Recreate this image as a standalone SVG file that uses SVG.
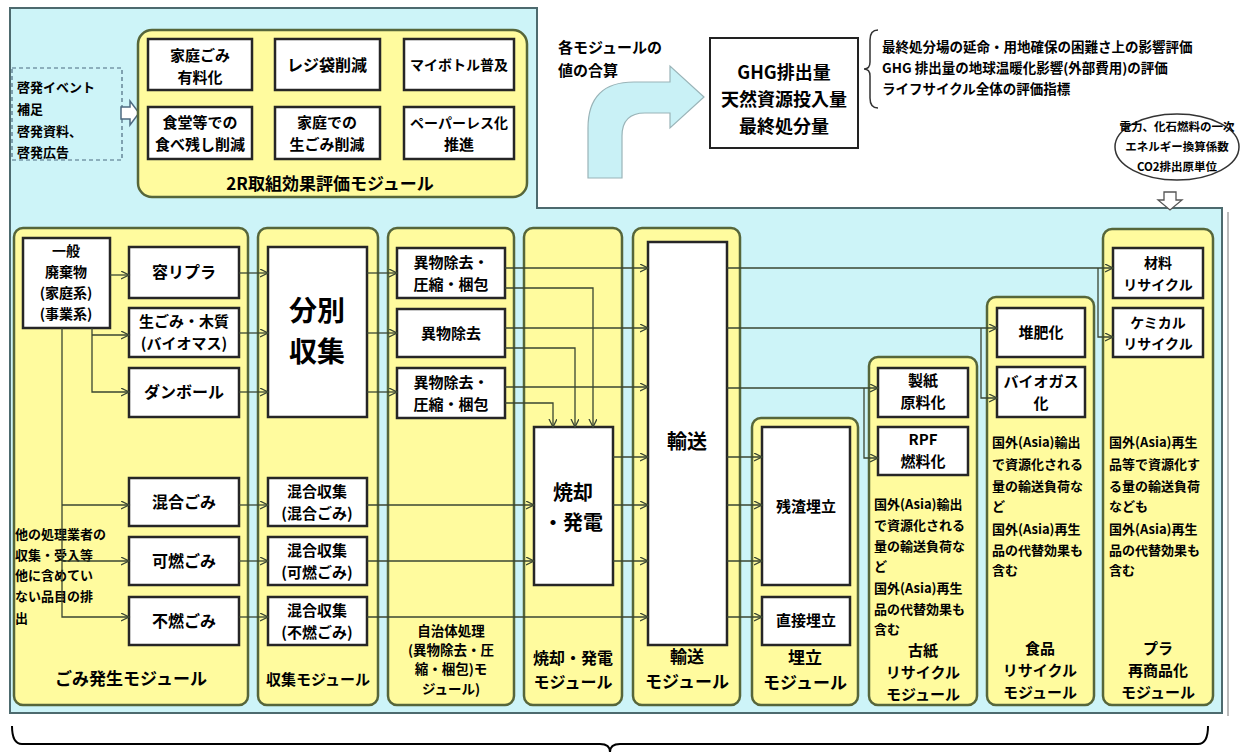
<svg xmlns="http://www.w3.org/2000/svg" width="1240" height="752" viewBox="0 0 1240 752">
<defs>
<style>
.panel{fill:#cdf4f8;stroke:#4d6a6e;stroke-width:2}
.mod{fill:#fffb9e;stroke:#56663a;stroke-width:2.5}
.box{fill:#ffffff;stroke:#262626;stroke-width:2.5}
.t{font-family:"Noto Sans CJK JP","Noto Sans",sans-serif;font-weight:bold;font-size:16px;text-anchor:middle;fill:#000}
.s{font-size:13px;text-anchor:start}
.c{fill:none;stroke:#3a4632;stroke-width:1.3}
.a{marker-end:url(#ar)}
</style>
<marker id="ar" markerUnits="userSpaceOnUse" markerWidth="10" markerHeight="10" refX="8" refY="4" orient="auto">
<path d="M0,0 L8,4 L0,8" fill="none" stroke="#3a4632" stroke-width="1.3"/>
</marker>
</defs>
<rect width="1240" height="752" fill="#ffffff"/>
<path class="panel" d="M10,8 H537 V208 H1222 V713 H10 Z"/>
<line x1="1228" y1="212" x2="1228" y2="716" stroke="#bbbbbb" stroke-width="2"/>

<g id="awareness">
<rect x="12" y="68" width="110" height="92" fill="none" stroke="#4d6a80" stroke-width="1.2" stroke-dasharray="4,3"/>
<text class="t s" x="17" y="92">啓発イベント</text>
<text class="t s" x="17" y="114">補足</text>
<text class="t s" x="17" y="136">啓発資料、</text>
<text class="t s" x="17" y="157">啓発広告</text>
<polygon points="121,107 130,107 130,101 139,113 130,125 130,119 121,119" fill="#ffffff" stroke="#4d6a80" stroke-width="1.5"/>
</g>

<g id="mod-2r">
<rect class="mod" x="138" y="30" width="389" height="167" rx="14"/>
<rect class="box" x="148" y="39" width="104" height="51"/>
<text class="t" x="200" y="61" style="font-size:15px">家庭ごみ</text><text class="t" x="200" y="83" style="font-size:15px">有料化</text>
<rect class="box" x="275" y="39" width="105" height="51"/>
<text class="t" x="327" y="71">レジ袋削減</text>
<rect class="box" x="404" y="39" width="110" height="51"/>
<text class="t" x="459" y="70" style="font-size:14px">マイボトル普及</text>
<rect class="box" x="148" y="107" width="104" height="52"/>
<text class="t" x="200" y="128" style="font-size:15px">食堂等での</text><text class="t" x="200" y="150" style="font-size:15px">食べ残し削減</text>
<rect class="box" x="275" y="107" width="105" height="52"/>
<text class="t" x="327" y="128" style="font-size:15px">家庭での</text><text class="t" x="327" y="150" style="font-size:15px">生ごみ削減</text>
<rect class="box" x="404" y="107" width="110" height="52"/>
<text class="t" x="459" y="128" style="font-size:14px">ペーパーレス化</text><text class="t" x="459" y="150" style="font-size:15px">推進</text>
<text class="t" x="330" y="190" style="font-size:17px">2R取組効果評価モジュール</text>
</g>

<g id="sum">
<text class="t" x="558" y="53" style="font-size:15px;text-anchor:start">各モジュールの</text>
<text class="t" x="558" y="76" style="font-size:15px;text-anchor:start">値の合算</text>
<path d="M588,178 L588,128 Q588,82 634,82 L670,82 L670,66 L704,97 L670,128 L670,113 L645,113 Q622,113 622,136 L622,178 Z" fill="#c9f1f6" stroke="#9ab4b8" stroke-width="1.2"/>
</g>

<g id="totals">
<rect x="710" y="38" width="148" height="110" fill="#ffffff" stroke="#222" stroke-width="2"/>
<text class="t" x="784" y="79" style="font-size:18px">GHG排出量</text>
<text class="t" x="784" y="106" style="font-size:18px">天然資源投入量</text>
<text class="t" x="784" y="133" style="font-size:18px">最終処分量</text>
<path d="M878,30 Q870,30 870,40 L870,62 Q870,69 864,69 Q870,69 870,76 L870,98 Q870,108 878,108" fill="none" stroke="#333" stroke-width="1.5"/>
<text class="t s" x="882" y="52" style="font-size:13.5px">最終処分場の延命・用地確保の困難さ上の影響評価</text>
<text class="t s" x="882" y="73" style="font-size:13.5px">GHG 排出量の地球温暖化影響(外部費用)の評価</text>
<text class="t s" x="882" y="94" style="font-size:13.5px">ライフサイクル全体の評価指標</text>
</g>

<g id="factors">
<ellipse cx="1177" cy="147" rx="62" ry="33" fill="#ffffff" stroke="#333" stroke-width="1.5"/>
<text class="t" x="1177" y="131" style="font-size:11.5px">電力、化石燃料の一次</text>
<text class="t" x="1177" y="151" style="font-size:11.5px">エネルギー換算係数</text>
<text class="t" x="1177" y="171" style="font-size:11.5px">CO2排出原単位</text>
<polygon points="1164,192 1176,192 1176,200 1182,200 1170,210 1158,200 1164,200" fill="#ffffff" stroke="#555" stroke-width="1.3"/>
</g>

<g id="mod-generation">
<rect class="mod" x="14" y="228" width="234" height="477" rx="9"/>
<rect class="box" x="23" y="238" width="87" height="90"/>
<text class="t" x="66" y="256" style="font-size:14px">一般</text><text class="t" x="66" y="277" style="font-size:14px">廃棄物</text><text class="t" x="66" y="298" style="font-size:14px">(家庭系)</text><text class="t" x="66" y="319" style="font-size:14px">(事業系)</text>
<rect class="box" x="129" y="247" width="110" height="51"/><text class="t" x="184" y="278">容リプラ</text>
<rect class="box" x="129" y="308" width="110" height="49"/><text class="t" x="184" y="327" style="font-size:15px">生ごみ・木質</text><text class="t" x="184" y="349" style="font-size:15px">(バイオマス)</text>
<rect class="box" x="129" y="368" width="110" height="49"/><text class="t" x="184" y="398">ダンボール</text>
<rect class="box" x="129" y="478" width="110" height="48"/><text class="t" x="184" y="508">混合ごみ</text>
<rect class="box" x="129" y="537" width="110" height="48"/><text class="t" x="184" y="567">可燃ごみ</text>
<rect class="box" x="129" y="597" width="110" height="48"/><text class="t" x="184" y="627">不燃ごみ</text>
<text class="t s" x="15" y="539">他の処理業者の</text>
<text class="t s" x="15" y="560">収集・受入等</text>
<text class="t s" x="15" y="580">他に含めてい</text>
<text class="t s" x="15" y="601">ない品目の排</text>
<text class="t s" x="15" y="623">出</text>
<text class="t" x="131" y="685" style="font-size:17px">ごみ発生モジュール</text>
</g>

<g id="mod-collection">
<rect class="mod" x="258" y="228" width="120" height="477" rx="9"/>
<rect class="box" x="268" y="247" width="99" height="170"/>
<text class="t" x="317" y="321" style="font-size:28px">分別</text><text class="t" x="317" y="362" style="font-size:28px">収集</text>
<rect class="box" x="268" y="478" width="99" height="48"/><text class="t" x="317" y="497" style="font-size:15px">混合収集</text><text class="t" x="317" y="519" style="font-size:15px">(混合ごみ)</text>
<rect class="box" x="268" y="537" width="99" height="48"/><text class="t" x="317" y="556" style="font-size:15px">混合収集</text><text class="t" x="317" y="578" style="font-size:15px">(可燃ごみ)</text>
<rect class="box" x="268" y="597" width="99" height="48"/><text class="t" x="317" y="616" style="font-size:15px">混合収集</text><text class="t" x="317" y="638" style="font-size:15px">(不燃ごみ)</text>
<text class="t" x="318" y="685" style="font-size:15px">収集モジュール</text>
</g>

<g id="mod-intermediate">
<rect class="mod" x="388" y="228" width="126" height="477" rx="9"/>
<rect class="box" x="397" y="248" width="108" height="50"/><text class="t" x="451" y="268" style="font-size:15px">異物除去・</text><text class="t" x="451" y="290" style="font-size:15px">圧縮・梱包</text>
<rect class="box" x="397" y="309" width="108" height="48"/><text class="t" x="451" y="339" style="font-size:15px">異物除去</text>
<rect class="box" x="397" y="368" width="108" height="50"/><text class="t" x="451" y="388" style="font-size:15px">異物除去・</text><text class="t" x="451" y="410" style="font-size:15px">圧縮・梱包</text>
<text class="t" x="451" y="636" style="font-size:13.5px">自治体処理</text>
<text class="t" x="451" y="655" style="font-size:13.5px">(異物除去・圧</text>
<text class="t" x="451" y="674" style="font-size:13.5px">縮・梱包)モ</text>
<text class="t" x="451" y="694" style="font-size:13.5px">ジュール)</text>
</g>

<g id="mod-incineration">
<rect class="mod" x="524" y="228" width="98" height="477" rx="9"/>
<rect class="box" x="534" y="427" width="79" height="158"/>
<text class="t" x="573" y="500" style="font-size:20px">焼却</text><text class="t" x="573" y="530" style="font-size:20px">・発電</text>
<text class="t" x="573" y="664">焼却・発電</text>
<text class="t" x="573" y="688">モジュール</text>
</g>

<g id="mod-transport">
<rect class="mod" x="633" y="228" width="107" height="477" rx="9"/>
<rect class="box" x="648" y="242" width="79" height="403"/>
<text class="t" x="687" y="449" style="font-size:20px">輸送</text>
<text class="t" x="687" y="663" style="font-size:17px">輸送</text>
<text class="t" x="687" y="688" style="font-size:17px">モジュール</text>
</g>

<g id="mod-landfill">
<rect class="mod" x="752" y="418" width="106" height="287" rx="9"/>
<rect class="box" x="762" y="427" width="88" height="158"/>
<text class="t" x="806" y="512" style="font-size:15px">残渣埋立</text>
<rect class="box" x="762" y="597" width="88" height="48"/>
<text class="t" x="806" y="626" style="font-size:15px">直接埋立</text>
<text class="t" x="805" y="664" style="font-size:17px">埋立</text>
<text class="t" x="805" y="689" style="font-size:17px">モジュール</text>
</g>

<g id="mod-paper">
<rect class="mod" x="869" y="357" width="108" height="348" rx="9"/>
<rect class="box" x="878" y="368" width="90" height="49"/><text class="t" x="923" y="386" style="font-size:15px">製紙</text><text class="t" x="923" y="408" style="font-size:15px">原料化</text>
<rect class="box" x="878" y="427" width="90" height="48"/><text class="t" x="923" y="445" style="font-size:15px">RPF</text><text class="t" x="923" y="467" style="font-size:15px">燃料化</text>
<text class="t s" x="874" y="509">国外(Asia)輸出</text>
<text class="t s" x="874" y="530">で資源化される</text>
<text class="t s" x="874" y="551">量の輸送負荷な</text>
<text class="t s" x="874" y="571">ど</text>
<text class="t s" x="874" y="593">国外(Asia)再生</text>
<text class="t s" x="874" y="614">品の代替効果も</text>
<text class="t s" x="874" y="634">含む</text>
<text class="t" x="923" y="656" style="font-size:15px">古紙</text>
<text class="t" x="923" y="678" style="font-size:15px">リサイクル</text>
<text class="t" x="923" y="700" style="font-size:15px">モジュール</text>
</g>

<g id="mod-food">
<rect class="mod" x="987" y="297" width="107" height="408" rx="9"/>
<rect class="box" x="997" y="308" width="88" height="49"/><text class="t" x="1041" y="338" style="font-size:15px">堆肥化</text>
<rect class="box" x="997" y="367" width="88" height="50"/><text class="t" x="1041" y="387" style="font-size:15px">バイオガス</text><text class="t" x="1041" y="409" style="font-size:15px">化</text>
<text class="t s" x="992" y="447">国外(Asia)輸出</text>
<text class="t s" x="992" y="469">で資源化される</text>
<text class="t s" x="992" y="491">量の輸送負荷な</text>
<text class="t s" x="992" y="511">ど</text>
<text class="t s" x="992" y="534">国外(Asia)再生</text>
<text class="t s" x="992" y="555">品の代替効果も</text>
<text class="t s" x="992" y="575">含む</text>
<text class="t" x="1040" y="654" style="font-size:15px">食品</text>
<text class="t" x="1040" y="676" style="font-size:15px">リサイクル</text>
<text class="t" x="1040" y="698" style="font-size:15px">モジュール</text>
</g>

<g id="mod-plastic">
<rect class="mod" x="1103" y="229" width="110" height="476" rx="9"/>
<rect class="box" x="1113" y="248" width="90" height="50"/><text class="t" x="1158" y="268" style="font-size:14px">材料</text><text class="t" x="1158" y="290" style="font-size:14px">リサイクル</text>
<rect class="box" x="1113" y="308" width="90" height="49"/><text class="t" x="1158" y="328" style="font-size:14px">ケミカル</text><text class="t" x="1158" y="349" style="font-size:14px">リサイクル</text>
<text class="t s" x="1109" y="447">国外(Asia)再生</text>
<text class="t s" x="1109" y="469">品等で資源化す</text>
<text class="t s" x="1109" y="491">る量の輸送負荷</text>
<text class="t s" x="1109" y="511">なども</text>
<text class="t s" x="1109" y="534">国外(Asia)再生</text>
<text class="t s" x="1109" y="555">品の代替効果も</text>
<text class="t s" x="1109" y="575">含む</text>
<text class="t" x="1158" y="654" style="font-size:15px">プラ</text>
<text class="t" x="1158" y="676" style="font-size:15px">再商品化</text>
<text class="t" x="1158" y="698" style="font-size:15px">モジュール</text>
</g>

<g id="connectors">
<path class="c a" d="M110,275 H129"/>
<path class="c a" d="M92,328 V392 H129"/>
<path class="c a" d="M92,335 H129"/>
<path class="c a" d="M62,328 V617 H129"/>
<path class="c a" d="M62,505 H129"/>
<path class="c a" d="M62,561 H129"/>
<path class="c a" d="M239,273 H268"/>
<path class="c a" d="M239,333 H268"/>
<path class="c a" d="M239,392 H268"/>
<path class="c a" d="M239,505 H268"/>
<path class="c a" d="M239,561 H268"/>
<path class="c a" d="M239,617 H268"/>
<path class="c a" d="M367,273 H397"/>
<path class="c a" d="M367,333 H397"/>
<path class="c a" d="M367,392 H397"/>
<path class="c a" d="M367,505 H534"/>
<path class="c a" d="M367,561 H534"/>
<path class="c a" d="M367,617 H648"/>
<path class="c a" d="M505,268 H648"/>
<path class="c a" d="M505,288 H593 V427"/>
<path class="c a" d="M505,328 H648"/>
<path class="c a" d="M505,348 H575 V427"/>
<path class="c a" d="M505,387 H648"/>
<path class="c a" d="M505,403 H553 V427"/>
<path class="c a" d="M613,457 H648"/>
<path class="c a" d="M613,505 H648"/>
<path class="c a" d="M613,561 H648"/>
<path class="c a" d="M727,268 H1113"/>
<path class="c a" d="M1098,268 V337 H1113"/>
<path class="c a" d="M727,328 H997"/>
<path class="c a" d="M981,328 V398 H997"/>
<path class="c a" d="M727,388 H878"/>
<path class="c a" d="M864,388 V458 H878"/>
<path class="c a" d="M727,457 H762"/>
<path class="c a" d="M727,505 H762"/>
<path class="c a" d="M727,561 H762"/>
<path class="c a" d="M727,617 H762"/>
</g>

<g id="bottom-brace">
<path d="M12,726 Q12,744 22,744 L600,744 Q610,744 610,752 Q610,744 620,744 L1198,744 Q1208,744 1208,726" fill="none" stroke="#000" stroke-width="2"/>
</g>
</svg>
